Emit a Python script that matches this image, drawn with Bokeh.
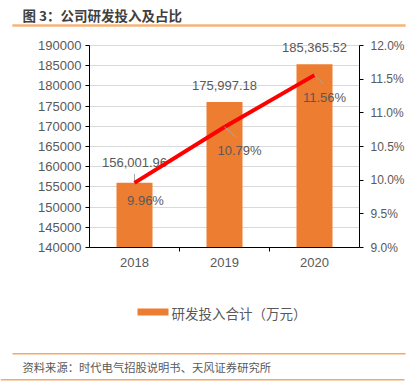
from bokeh.plotting import figure
from bokeh.layouts import column
from bokeh.models import (Range1d, LinearAxis, FixedTicker, PrintfTickFormatter,
                          NumeralTickFormatter)
from bokeh.embed import file_html
from bokeh.resources import INLINE
from bokeh.core.properties import value

years = ["2018", "2019", "2020"]
rd_invest = [156001.96, 175997.18, 185365.52]
rd_ratio = [9.96, 10.79, 11.56]
left_ticks = [140000, 145000, 150000, 155000, 160000, 165000, 170000, 175000, 180000, 185000, 190000]
right_ticks = [9.0, 9.5, 10.0, 10.5, 11.0, 11.5, 12.0]

title_text = "图 3：公司研发投入及占比"
legend_text = "研发投入合计（万元）"
source_text = "资料来源：时代电气招股说明书、天风证券研究所"

NUM_FONT = "Liberation Sans"
CJK_FONT = "Noto Sans CJK SC"
GRAY = "#595959"
ORANGE = "#ED7D31"
RULE_TOP = "#F6B47A"
RULE_FOOT = "#F5A866"
W = 414


def blank(h):
    f = figure(width=W, height=h, output_backend="svg", toolbar_location=None, title=None,
               x_range=Range1d(0, W), y_range=Range1d(h, 0),
               min_border=0, min_border_left=0, min_border_right=0,
               min_border_top=0, min_border_bottom=0, frame_align=False)
    f.axis.visible = False
    f.grid.visible = False
    f.outline_line_color = None
    f.background_fill_color = "white"
    f.border_fill_color = "white"
    return f


# ---------- header (pixel rows from the top of the page) ----------
HH = 36
head = blank(HH)
head.hbar(y=[25], left=[12], right=[405], height=2, fill_color=RULE_TOP, line_color=None)
head.quad(left=[12], right=[405], top=[24], bottom=[26], fill_color=RULE_TOP, line_color=None)
head.text(x=[22], y=[14], text=[title_text], text_align="left", text_baseline="middle",
          text_font=value(CJK_FONT), text_font_size="13.5px", text_font_style="bold",
          text_color="#404040")

# ---------- main chart ----------
frame_px = 202           # pixel height of the 140000..190000 span
ext_px = 8               # extra room above the top tick for labels
lo, hi = left_ticks[0], left_ticks[-1]
y_end = hi + ext_px * (hi - lo) / frame_px
r_lo, r_hi = right_ticks[0], right_ticks[-1]
r_end = r_hi + ext_px * (r_hi - r_lo) / frame_px

xs = [i + 0.5 for i in range(len(years))]

top_b = 45 - ext_px - HH
p = figure(width=W, height=top_b + frame_px + ext_px + 43, output_backend="svg", toolbar_location=None,
           title=None, x_range=Range1d(0, len(years)), y_range=Range1d(lo, y_end), frame_align=False,
           min_border_left=89, min_border_right=55, min_border_top=top_b, min_border_bottom=43)
p.outline_line_color = None
p.background_fill_color = "white"
p.border_fill_color = "white"

ya = p.yaxis[0]
ya.bounds = (lo, hi)
ya.ticker = FixedTicker(ticks=left_ticks)
ya.formatter = NumeralTickFormatter(format="0")
ya.axis_line_color = "black"
ya.major_tick_line_color = "black"
ya.major_tick_out = 4
ya.major_tick_in = 0
ya.minor_tick_line_color = None
ya.major_label_text_color = GRAY
ya.major_label_text_font = NUM_FONT
ya.major_label_text_font_size = "13px"
ya.major_label_standoff = 4

p.extra_y_ranges = {"pct": Range1d(r_lo, r_end)}
ra = LinearAxis(y_range_name="pct", ticker=FixedTicker(ticks=right_ticks),
                formatter=PrintfTickFormatter(format="%.1f%%"), bounds=(r_lo, r_hi))
ra.axis_line_color = "black"
ra.major_tick_line_color = "black"
ra.major_tick_out = 4
ra.major_tick_in = 0
ra.minor_tick_line_color = None
ra.major_label_text_color = GRAY
ra.major_label_text_font = NUM_FONT
ra.major_label_text_font_size = "12px"
ra.major_label_standoff = 7
p.add_layout(ra, "right")

xa = p.xaxis[0]
xa.ticker = FixedTicker(ticks=xs, minor_ticks=list(range(1, len(years))))
xa.major_label_overrides = {x: y for x, y in zip(xs, years)}
xa.axis_line_color = "black"
xa.major_tick_line_color = None
xa.major_tick_out = 0
xa.minor_tick_line_color = "black"
xa.minor_tick_out = 4
xa.minor_tick_in = 0
xa.major_label_text_color = GRAY
xa.major_label_text_font = NUM_FONT
xa.major_label_text_font_size = "13px"
xa.major_label_standoff = 6

p.xgrid.visible = False
p.ygrid.ticker = FixedTicker(ticks=left_ticks)
p.ygrid.grid_line_color = "#D9D9D9"
p.ygrid.grid_line_width = 1

p.vbar(x=xs, top=rd_invest, bottom=lo, width=0.4, fill_color=ORANGE, line_color=None)

# leader line of the first bar label
p.segment(x0=xs[:1], y0=rd_invest[:1], x1=xs[:1], y1=[rd_invest[0] + 2200],
          line_color="#A6A6A6", line_width=1)

p.text(x=xs, y=rd_invest, text=[f"{v:,.2f}" for v in rd_invest],
       text_align="center", text_baseline="middle", y_offset=[-20, -17, -17],
       text_color=GRAY, text_font=value(NUM_FONT), text_font_size="13px")

p.line(x=xs, y=rd_ratio, y_range_name="pct", line_color="#FF0000", line_width=4)

p.segment(x0=xs[1:], y0=rd_ratio[1:], x1=[xs[1] + 0.13, xs[2] + 0.1],
          y1=[rd_ratio[1] - 0.15, rd_ratio[2] - 0.13], y_range_name="pct",
          line_color="#A6A6A6", line_width=1)

p.text(x=xs, y=rd_ratio, text=[f"{v:.2f}%" for v in rd_ratio], y_range_name="pct",
       text_align="center", text_baseline="middle", x_offset=[11, 15, 10], y_offset=[18, 24, 22],
       text_color=GRAY, text_font=value(NUM_FONT), text_font_size="13px")

# ---------- footer (pixel rows from the top of the strip) ----------
foot = blank(98)
foot.quad(left=[137], right=[168], top=[18], bottom=[25], fill_color=ORANGE, line_color=None)
foot.text(x=[171], y=[22], text=[legend_text], text_align="left", text_baseline="middle",
          text_font=value(CJK_FONT), text_font_size="13.5px", text_color=GRAY)
foot.quad(left=[12], right=[405], top=[62.5], bottom=[64], fill_color=RULE_FOOT, line_color=None)
foot.text(x=[22], y=[76], text=[source_text], text_align="left", text_baseline="middle",
          text_font=value(CJK_FONT), text_font_size="11.3px", text_color=GRAY)
foot.quad(left=[0], right=[404], top=[88.5], bottom=[90], fill_color=RULE_FOOT, line_color=None)

layout = column(head, p, foot, spacing=0)
open("out.html", "w").write(file_html(layout, INLINE))
